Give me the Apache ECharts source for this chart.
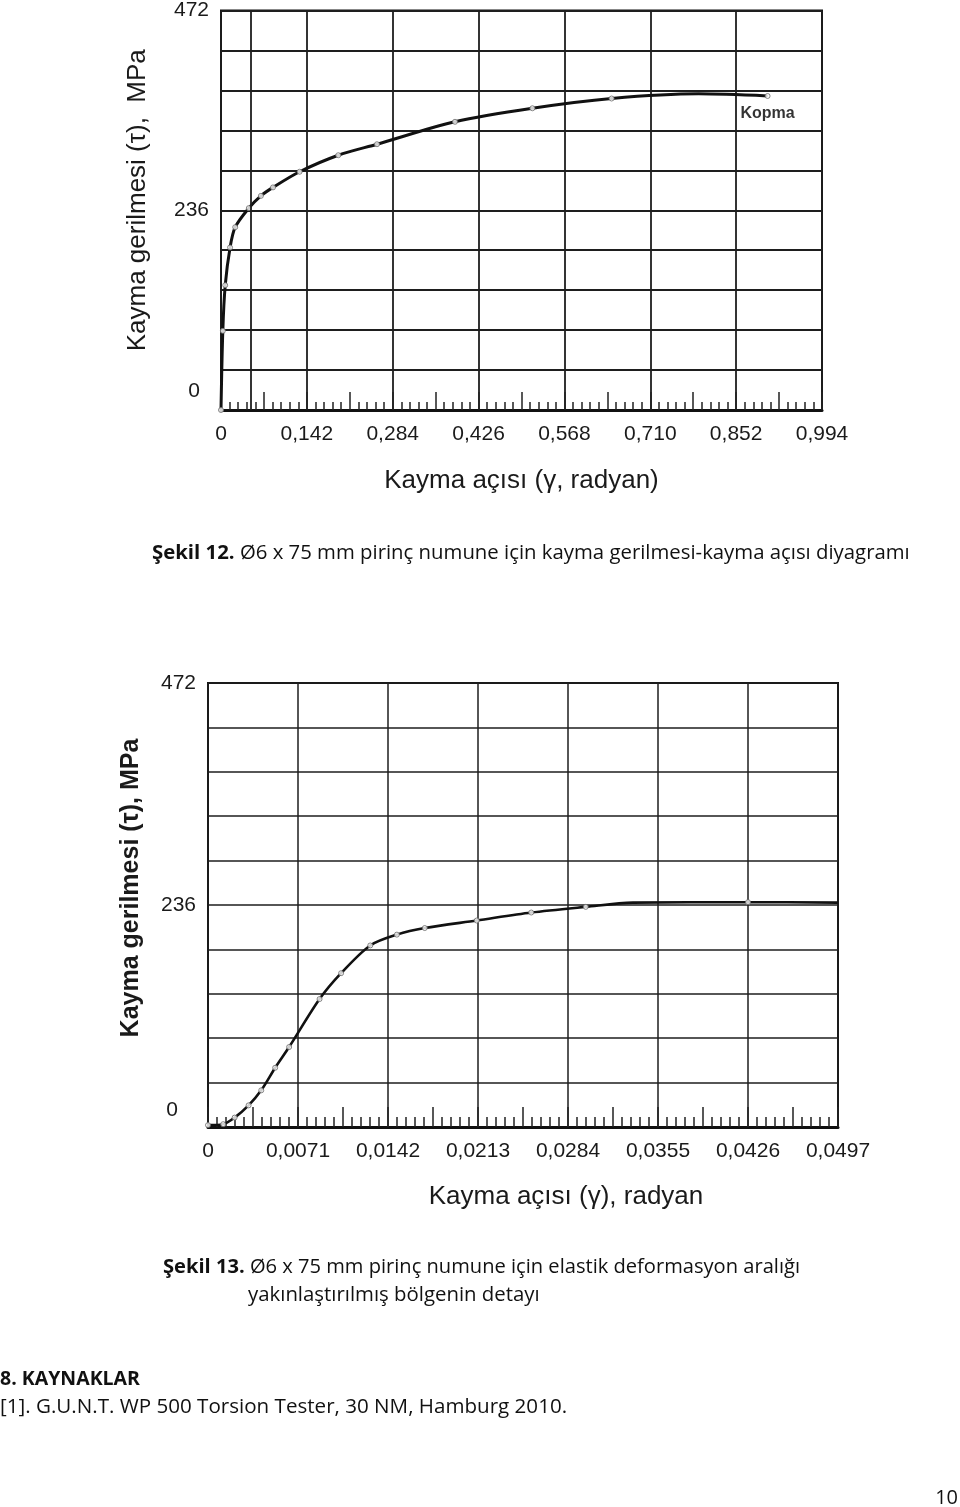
<!DOCTYPE html>
<html><head><meta charset="utf-8">
<script src="https://cdn.jsdelivr.net/npm/echarts@6/dist/echarts.min.js"></script>
<style>html,body{margin:0;padding:0;background:#fff}#c{width:960px;height:1507px}</style>
</head><body><div id="c"></div>
<script>
// ---- Şekil 12 data (full range) ----
const gamma1 = [0, 0.003, 0.007, 0.015, 0.0235, 0.046, 0.066, 0.086, 0.130, 0.194, 0.258, 0.387, 0.515, 0.646, 0.790, 0.904];
const tau1   = [0, 93.5, 147.5, 192, 216, 238.5, 253, 263, 281.5, 301, 314, 340.5, 356.5, 368, 373.5, 371];
const noMarker1 = [14];
const extraGridX1 = [0.051];
const xTicks1 = ['0', '0,142', '0,284', '0,426', '0,568', '0,710', '0,852', '0,994'];
// ---- Şekil 13 data (elastic region detail) ----
const gamma2 = [0, 0.0012, 0.0021, 0.0032, 0.0042, 0.0053, 0.0064, 0.0088, 0.0105, 0.0128, 0.0149, 0.0171, 0.0212, 0.0255, 0.0298, 0.0335, 0.0426, 0.0497];
const tau2   = [2, 3, 10, 23, 39, 63, 85, 136, 163.5, 193, 204.5, 211.5, 219.5, 228, 234, 238.5, 239, 238.5];
const noMarker2 = [15, 17];
const xTicks2 = ['0', '0,0071', '0,0142', '0,0213', '0,0284', '0,0355', '0,0426', '0,0497'];
// ---- shared ----
const yTicks = ['0', '236', '472'];
const yMax = 472, yStep = 47.2;
const xStep1 = 0.142, xMax1 = 0.994;
const xStep2 = 0.0071, xMax2 = 0.0497;

// ---- page texts ----
const cap12Bold = 'Şekil 12.';
const cap12Text = ' Ø6 x 75 mm pirinç numune için kayma gerilmesi-kayma açısı diyagramı';
const cap13Bold = 'Şekil 13.';
const cap13Text = ' Ø6 x 75 mm pirinç numune için elastik deformasyon aralığı';
const cap13Line2 = 'yakınlaştırılmış bölgenin detayı';
const refHead = '8. KAYNAKLAR';
const refLine = '[1]. G.U.N.T. WP 500 Torsion Tester, 30 NM, Hamburg 2010.';
const pageNo = '10';

const SANS = '"Liberation Sans", Arial, sans-serif';
const DOC = '"Open Sans", Lato, sans-serif';

// fit each document line's font size to the width it spans on the page
const cv = document.createElement('canvas').getContext('2d');
function w(t, sz, bold) { cv.font = (bold ? 'bold ' : '') + sz + 'px ' + DOC; return cv.measureText(t).width; }
function fit(bold, rest, target) {
  const base = w(bold || '', 20, true) + w(rest || '', 20, false);
  return Math.max(17, Math.min(22, +(20 * target / base).toFixed(2)));
}

const TICKFS = 21;
function yLabel(zeroPad) {
  return {
    formatter: function (v) {
      const s = String(Math.round(v));
      if (yTicks.indexOf(s) < 0 || Math.abs(v - Math.round(v)) > 1e-6) return '';
      return s === '0' ? '{z|0}' : s;
    },
    fontFamily: SANS, fontSize: TICKFS, color: '#1a1a1a', margin: 12,
    rich: { z: { fontFamily: SANS, fontSize: TICKFS, color: '#1a1a1a', padding: zeroPad } }
  };
}
function mainX(gi, step, max, ticks, nameText, nameGap, namePad, gridW) {
  return {
    type: 'value', gridIndex: gi, position: 'bottom', min: 0, max: max, interval: step,
    axisLine: { show: true, onZero: false, lineStyle: { color: '#111', width: 3 } },
    axisTick: { show: false },
    splitLine: { show: true, lineStyle: { color: '#1e1e1e', width: gridW } },
    axisLabel: {
      formatter: function (v) { return ticks[Math.round(v / step)] || ''; },
      fontFamily: SANS, fontSize: TICKFS, color: '#1a1a1a', margin: 14
    },
    name: nameText, nameLocation: 'middle', nameGap: nameGap,
    nameTextStyle: { fontFamily: SANS, fontSize: 26, color: '#1a1a1a', padding: namePad }
  };
}
function tickX(gi, step, max, medLen, minLen) {
  return {
    type: 'value', gridIndex: gi, position: 'bottom', min: 0, max: max, interval: step / 2,
    axisLine: { show: false, onZero: false },
    axisTick: { show: true, inside: true, length: medLen, lineStyle: { color: '#222', width: 1.5 } },
    minorTick: { show: true, splitNumber: 5, length: minLen, lineStyle: { color: '#222', width: 1.5 } },
    axisLabel: { show: false }, splitLine: { show: false }
  };
}
function yAx(gi, nameText, weight, nameGap, namePad, zeroPad, fs, gridW) {
  return {
    type: 'value', gridIndex: gi, position: 'left', min: 0, max: yMax, interval: yStep,
    axisLine: { show: false }, axisTick: { show: false },
    splitLine: { show: true, lineStyle: { color: '#1e1e1e', width: gridW } },
    axisLabel: yLabel(zeroPad),
    name: nameText, nameLocation: 'middle', nameRotate: 90, nameGap: nameGap,
    nameTextStyle: { fontFamily: SANS, fontSize: fs, fontWeight: weight, color: '#1a1a1a', padding: namePad }
  };
}
function pts(gs, ts, skip, lastLabel) {
  const out = [];
  gs.forEach(function (g, i) {
    if (skip.indexOf(i) >= 0) return;
    const item = { value: [g, ts[i]] };
    if (lastLabel && i === gs.length - 1) {
      item.label = { show: true, formatter: lastLabel, position: 'bottom', distance: 7,
        fontFamily: SANS, fontWeight: 'bold', fontSize: 16, color: '#000' };
    }
    out.push(item);
  });
  return out;
}
function docText(left, top, bold, rest, target) {
  const sz = fit(bold, rest, target);
  return { type: 'text', left: left, top: top, style: {
    text: (bold ? '{b|' + bold + '}' : '') + rest,
    fontFamily: DOC, fontSize: sz, fill: '#111',
    rich: { b: { fontFamily: DOC, fontSize: sz, fontWeight: 'bold', fill: '#111' } } } };
}

const chart = echarts.init(document.getElementById('c'), null, { renderer: 'canvas' });
chart.setOption({
  backgroundColor: '#fff',
  animation: false,
  grid: [
    { left: 221, top: 10, width: 601, height: 400, show: true, borderColor: '#111', borderWidth: 2, backgroundColor: 'transparent' },
    { left: 208, top: 683, width: 630, height: 444, show: true, borderColor: '#111', borderWidth: 2, backgroundColor: 'transparent' }
  ],
  xAxis: [
    mainX(0, xStep1, xMax1, xTicks1, 'Kayma açısı (γ, radyan)', 58, [0, 0, 0, 0], 1.8),
    tickX(0, xStep1, xMax1, 18, 8),
    mainX(1, xStep2, xMax2, xTicks2, 'Kayma açısı (γ), radyan', 57, [0, 0, 0, 86], 1.5),
    tickX(1, xStep2, xMax2, 20, 10)
  ],
  yAxis: [
    yAx(0, 'Kayma gerilmesi (τ),  MPa', 'normal', 70, [0, 0, 0, 20], [0, 9, 38, 0], 26, 1.8),
    yAx(1, 'Kayma gerilmesi (τ), MPa', 'bold', 64, [0, 0, 0, 34], [0, 18, 34, 0], 25, 1.5)
  ],
  series: [
    { type: 'line', xAxisIndex: 0, yAxisIndex: 0, smooth: 0.3, showSymbol: false,
      lineStyle: { color: '#111', width: 3 }, data: gamma1.map(function (g, i) { return [g, tau1[i]]; }),
      markLine: { silent: true, symbol: 'none', label: { show: false },
        lineStyle: { color: '#1e1e1e', width: 1.8, type: 'solid' },
        data: extraGridX1.map(function (x) { return { xAxis: x }; }) }, z: 3 },
    { type: 'scatter', xAxisIndex: 0, yAxisIndex: 0, symbol: 'circle', symbolSize: 5,
      itemStyle: { color: '#fff', borderColor: '#666', borderWidth: 1 }, data: pts(gamma1, tau1, noMarker1, 'Kopma'), z: 4 },
    { type: 'line', xAxisIndex: 2, yAxisIndex: 1, smooth: 0.3, showSymbol: false,
      lineStyle: { color: '#111', width: 2.6 }, data: gamma2.map(function (g, i) { return [g, tau2[i]]; }), z: 3 },
    { type: 'scatter', xAxisIndex: 2, yAxisIndex: 1, symbol: 'circle', symbolSize: 5,
      itemStyle: { color: '#fff', borderColor: '#666', borderWidth: 1 }, data: pts(gamma2, tau2, noMarker2, null), z: 4 }
  ],
  graphic: [
    docText(152, 543, cap12Bold, cap12Text, 758),
    docText(163, 1257, cap13Bold, cap13Text, 637),
    docText(248, 1285, null, cap13Line2, 292),
    docText(0, 1369, refHead, '', 140),
    docText(0, 1397, null, refLine, 567),
    { type: 'text', right: 2, top: 1488, style: { text: pageNo, fontFamily: DOC, fontSize: 20, fill: '#111' } }
  ]
});
</script>
</body></html>
